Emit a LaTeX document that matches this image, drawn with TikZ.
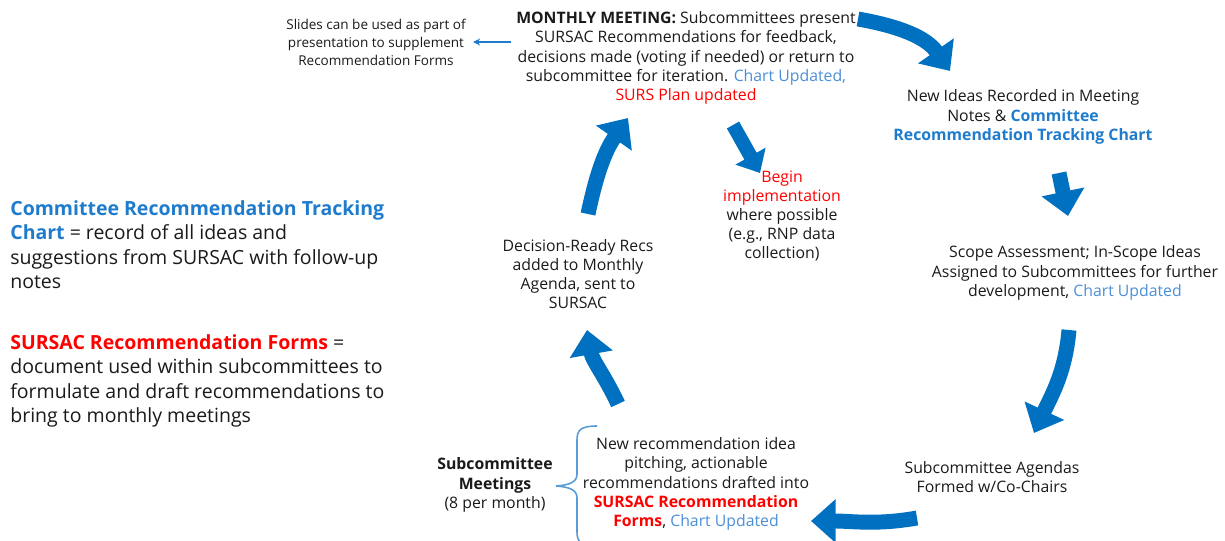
\documentclass[tikz,border=0pt]{standalone}
\usepackage{fontspec}
\setmainfont{Open Sans}
\usepackage{tikz}
\usetikzlibrary{arrows.meta}
\usepackage{xcolor}
\definecolor{arrowblue}{HTML}{0070C0}
\definecolor{chartblue}{HTML}{1F7BCC}
\definecolor{updblue}{HTML}{4A8FD8}
\definecolor{formred}{HTML}{FF0000}
\definecolor{txt}{HTML}{1A1A1A}
\definecolor{bracecol}{HTML}{5B9BD5}

\begin{document}
\begin{tikzpicture}[x=0.02cm,y=-0.02cm,
  stepnote/.style={align=center,text=txt,inner sep=0pt,font=\fontsize{9}{10.9}\selectfont},
  legend/.style={align=left,text=txt,inner sep=0pt,anchor=north west,font=\fontsize{11.1}{13.9}\selectfont},
  bigarrow/.style={arrowblue,line width=8.5pt,-{Triangle[width=24pt,length=14pt]}},
  smallarrow/.style={arrowblue,line width=8pt,-{Triangle[width=19pt,length=11pt]}},
  pointer/.style={draw=chartblue,line width=0.6pt,-{Stealth[length=4pt,width=4pt]}}]
\clip (0,0) rectangle (1225,541);

% steps of the cycle
\node [stepnote] (monthly) at (686,58) {\textbf{MONTHLY MEETING:} Subcommittees present\\ SURSAC Recommendations for feedback,\\ decisions made (voting if needed) or return to\\ subcommittee for iteration. \textcolor{updblue}{Chart Updated,}\\ \textcolor{formred}{SURS Plan updated}};
\node [stepnote,font=\fontsize{7.7}{10.2}\selectfont] (slides) at (376,42) {Slides can be used as part of\\ presentation to supplement\\ Recommendation Forms};
\node [stepnote] (ideas) at (1023,117) {New Ideas Recorded in Meeting\\ Notes \& \textbf{\textcolor{chartblue}{Committee}}\\ \textbf{\textcolor{chartblue}{Recommendation Tracking Chart}}};
\node [stepnote] (scope) at (1075,273) {Scope Assessment; In-Scope Ideas\\ Assigned to Subcommittees for further\\ development, \textcolor{updblue}{Chart Updated}};
\node [stepnote] (agendas) at (992,477) {Subcommittee Agendas\\ Formed w/Co-Chairs};
\node [stepnote] (drafting) at (696,484) {New recommendation idea\\ pitching, actionable\\ recommendations drafted into\\ \textbf{\textcolor{formred}{SURSAC Recommendation}}\\ \textbf{\textcolor{formred}{Forms}}, \textcolor{updblue}{Chart Updated}};
\node [stepnote] (submeet) at (495,485) {\textbf{Subcommittee}\\ \textbf{Meetings}\\ (8 per month)};
\node [stepnote] (ready) at (578,274) {Decision-Ready Recs\\ added to Monthly\\ Agenda, sent to\\ SURSAC};
\node [stepnote] (implement) at (782,216) {\textcolor{formred}{Begin}\\ \textcolor{formred}{implementation}\\ where possible\\ (e.g., RNP data\\ collection)};

% legend
\node [legend] (chartdef) at (10,200) {\textbf{\textcolor{chartblue}{Committee Recommendation Tracking}}\\ \textbf{\textcolor{chartblue}{Chart}} = record of all ideas and\\ suggestions from SURSAC with follow-up\\ notes};
\node [legend] (formdef) at (10,334) {\textbf{\textcolor{formred}{SURSAC Recommendation Forms}} =\\ document used within subcommittees to\\ formulate and draft recommendations to\\ bring to monthly meetings};

% arrow ends
\coordinate (m1) at (858,19);   \coordinate (m2) at (950,71);
\coordinate (i1) at (1059,173); \coordinate (i2) at (1068,216);
\coordinate (s1) at (1069,330); \coordinate (s2) at (1034,433);
\coordinate (a1) at (917,518);  \coordinate (a2) at (811,521);
\coordinate (d1) at (618,404);  \coordinate (d2) at (587,330);
\coordinate (r1) at (588,214);  \coordinate (r2) at (628,118);
\coordinate (b1) at (733,125);  \coordinate (b2) at (760,173);

\draw [bigarrow] (m1) to[out=-10,in=125] (m2);
\draw [bigarrow] (i1) -- (i2);
\draw [bigarrow] (s1) to[out=-95,in=65] (s2);
\draw [bigarrow] (a1) to[out=190,in=0] (a2);
\draw [bigarrow] (d1) to[out=115,in=-80] (d2);
\draw [bigarrow] (r1) to[out=78,in=-125] (r2);
\draw [smallarrow] (b1) -- (b2);

\draw [pointer,shorten <=3pt,shorten >=4pt] (slides.east -| monthly.west) -- (slides.east);

% brace for subcommittee meetings
\draw [bracecol,line width=0.9pt] (597,426) .. controls (581,426) and (577,430) .. (577,440) -- (577,474) .. controls (577,482) and (570,485) .. (556,486) .. controls (570,487) and (577,490) .. (577,498) -- (577,532) .. controls (577,542) and (581,546) .. (597,546);
\end{tikzpicture}
\end{document}
